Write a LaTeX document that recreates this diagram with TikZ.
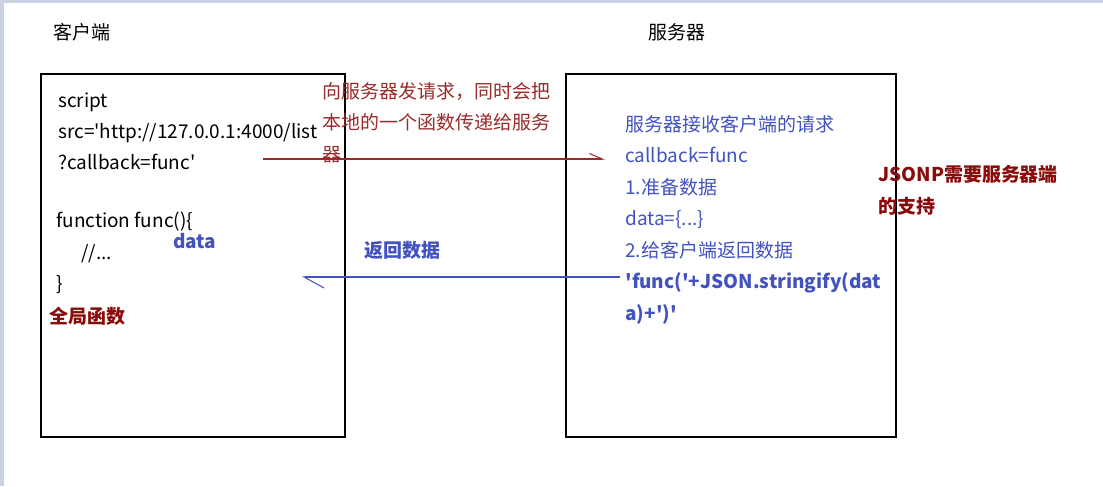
\documentclass[tikz,border=0pt]{standalone}
\usepackage{fontspec}
\setmainfont{Noto Sans CJK SC}
\newfontfamily\plainfont{Noto Sans CJK SC}
\usetikzlibrary{arrows.meta}
\definecolor{frame}{HTML}{C9D1E3}
\definecolor{reqred}{HTML}{9C2A2A}
\definecolor{darkred}{HTML}{8B0A0A}
\definecolor{srvblue}{HTML}{4252BE}
\newcommand{\txtsize}{\plainfont\fontsize{10.8}{17.9}\selectfont}
\tikzset{
  panel/.style={draw=black,line width=0.8pt},
  txt/.style={anchor=north west,inner sep=0,align=left,font=\txtsize},
  redflow/.style={-{Straight Barb[left,length=2.6mm,width=2.2mm]},draw=reqred,line width=0.6pt},
  blueflow/.style={-{Straight Barb[left,length=4mm,width=4.4mm]},draw=srvblue,line width=0.6pt}}

\begin{document}
\begin{tikzpicture}
  \useasboundingbox (0,0) rectangle (22.06,-9.72);
  \fill[frame] (0,0) rectangle (22.06,-0.06);
  \fill[frame] (0,0) rectangle (0.07,-9.72);
  % the two sides
  \draw[panel] (0.82,-1.48) rectangle (6.90,-8.74);
  \draw[panel] (11.32,-1.48) rectangle (17.92,-8.74);
  \node[txt] (client) at (1.06,-0.46) {客户端};
  \node[txt] (server) at (12.96,-0.46) {服务器};
  % client side
  \node[txt] (script) at (1.16,-1.84) {script\\src='http://127.0.0.1:4000/list\\?callback=func'};
  \node[txt] (func) at (1.12,-4.24) {function func()\{\\\hspace{0.5cm}//...\\\}};
  \node[txt,font=\txtsize\bfseries,text=srvblue] (data) at (3.46,-4.66) {data};
  \node[txt,font=\txtsize\bfseries,text=darkred] (global) at (0.98,-6.14) {全局函数};
  % request
  \node[txt,text=reqred] (req) at (6.44,-1.64) {向服务器发请求，同时会把\\本地的一个函数传递给服务\\器};
  \coordinate (reqa) at (5.26,-3.18);
  \coordinate (reqb) at (12.10,-3.18);
  \draw[redflow] (reqa) -- (reqb);
  % server side
  \node[txt,text=srvblue] (srv) at (12.50,-2.30) {服务器接收客户端的请求\\callback=func\\1.准备数据\\data=\{...\}\\2.给客户端返回数据\\\textbf{'func('+JSON.stringify(dat}\\\textbf{a)+')'}};
  \node[txt,font=\txtsize\bfseries,text=darkred] (jsonp) at (17.56,-3.30) {JSONP需要服务器端\\的支持};
  % response
  \node[txt,font=\txtsize\bfseries,text=srvblue] (back) at (7.28,-4.82) {返回数据};
  \coordinate (resa) at (12.40,-5.54);
  \coordinate (resb) at (6.04,-5.54);
  \draw[blueflow] (resa) -- (resb);
\end{tikzpicture}
\end{document}
